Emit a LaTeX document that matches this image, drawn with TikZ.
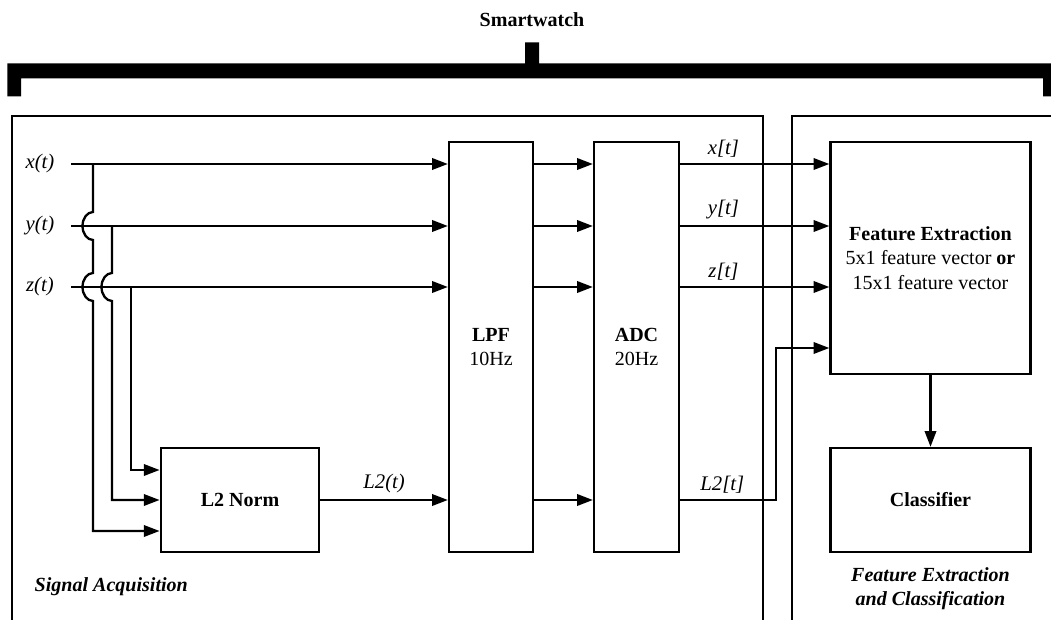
\documentclass[tikz,border=0pt]{standalone}
\usepackage{fontspec}
\setmainfont{Liberation Serif}
\usepackage{tikz}
\usetikzlibrary{arrows.meta}

\tikzset{
  blk/.style={draw, line width=1.3pt, align=center, inner sep=2pt},
  sig/.style={-{Triangle[length=9pt,width=6.5pt]}, line width=1.3pt},
  wire/.style={line width=1.3pt},
  lbl/.style={font=\fontsize{11.8}{13.8}\selectfont\itshape},
}

\begin{document}
\begin{tikzpicture}[every node/.style={font=\fontsize{11.4}{13.8}\selectfont}]
\useasboundingbox (0,0) rectangle (21.02,12.38);
\clip (0,0) rectangle (21.02,12.38);

\node[font=\fontsize{11.4}{13.8}\selectfont\bfseries] (top) at (10.64,11.98) {Smartwatch};
\fill (0.15,10.45) -- (0.15,11.11) -- (10.50,11.11) -- (10.50,11.53) -- (10.78,11.53)
  -- (10.78,11.11) -- (21.13,11.11) -- (21.13,10.45) -- (20.86,10.45) -- (20.86,10.81)
  -- (0.42,10.81) -- (0.42,10.45) -- cycle;

\draw[wire] (0.24,-0.5) |- (15.26,10.06) -- (15.26,-0.5);
\draw[wire] (15.84,-0.5) |- (21.6,10.06);

\coordinate (rx) at (0,9.10);
\coordinate (ry) at (0,7.86);
\coordinate (rz) at (0,6.64);
\coordinate (rf) at (0,5.42);
\coordinate (rl) at (0,2.38);

\node[blk, minimum width=3.17cm, minimum height=2.08cm] (l2n) at (4.80,2.38) {\textbf{L2 Norm}};
\node[blk, minimum width=1.68cm, minimum height=8.2cm] (lpf) at (9.82,5.44) {\textbf{LPF}\\10Hz};
\node[blk, minimum width=1.70cm, minimum height=8.2cm] (adc) at (12.73,5.44) {\textbf{ADC}\\20Hz};
\node[blk, minimum width=4.0cm, minimum height=4.64cm] (fe) at (18.61,7.22)
  {\textbf{Feature Extraction}\\5x1 feature vector \textbf{or}\\15x1 feature vector};
\node[blk, minimum width=4.0cm, minimum height=2.08cm] (cls) at (18.61,2.38) {\textbf{Classifier}};

\node[lbl] (xl) at (0.80,9.10) {x(t)};
\node[lbl] (yl) at (0.80,7.86) {y(t)};
\node[lbl] (zl) at (0.80,6.64) {z(t)};
\coordinate (xs) at (1.42,9.10);
\coordinate (ys) at (1.42,7.86);
\coordinate (zs) at (1.42,6.64);
\coordinate (xt) at (1.86,9.10);
\coordinate (yt) at (2.24,7.86);
\coordinate (zt) at (2.62,6.64);
\coordinate (l2j) at (15.52,0);

\draw[sig] (xs) -- (lpf.west |- rx);
\draw[sig] (ys) -- (lpf.west |- ry);
\draw[sig] (zs) -- (lpf.west |- rz);

\draw[sig] (xt) -- (1.86,8.14) arc[start angle=90,end angle=270,x radius=0.21,y radius=0.28]
  -- (1.86,6.92) arc[start angle=90,end angle=270,x radius=0.21,y radius=0.28]
  |- ([yshift=-0.62cm]l2n.west);
\draw[sig] (yt) -- (2.24,6.92) arc[start angle=90,end angle=270,x radius=0.21,y radius=0.28]
  |- (l2n.west);
\draw[sig] (zt) |- ([yshift=0.6cm]l2n.west);

\draw[sig] (l2n.east) -- (lpf.west |- l2n.east) node[lbl, midway, above] {L2(t)};

\foreach \r in {rx,ry,rz,rl}
  \draw[sig] (lpf.east |- \r) -- (adc.west |- \r);

\foreach \r/\t in {rx/{x[t]},ry/{y[t]},rz/{z[t]}}
  \draw[sig] (adc.east |- \r) -- (fe.west |- \r) node[lbl, pos=0.29, above] {\t};
\draw[sig] (adc.east |- rl) -- node[lbl, pos=0.44, above] {L2[t]} (l2j |- rl) |- (fe.west |- rf);

\draw[sig] (fe) -- (cls);

\node[anchor=west, font=\fontsize{11.4}{13.8}\selectfont\bfseries\itshape] (sa) at (0.57,0.64) {Signal Acquisition};
\node[align=center, font=\fontsize{11.4}{13.4}\selectfont\bfseries\itshape] (fc) at (18.61,0.61)
  {Feature Extraction\\and Classification};
\end{tikzpicture}
\end{document}
